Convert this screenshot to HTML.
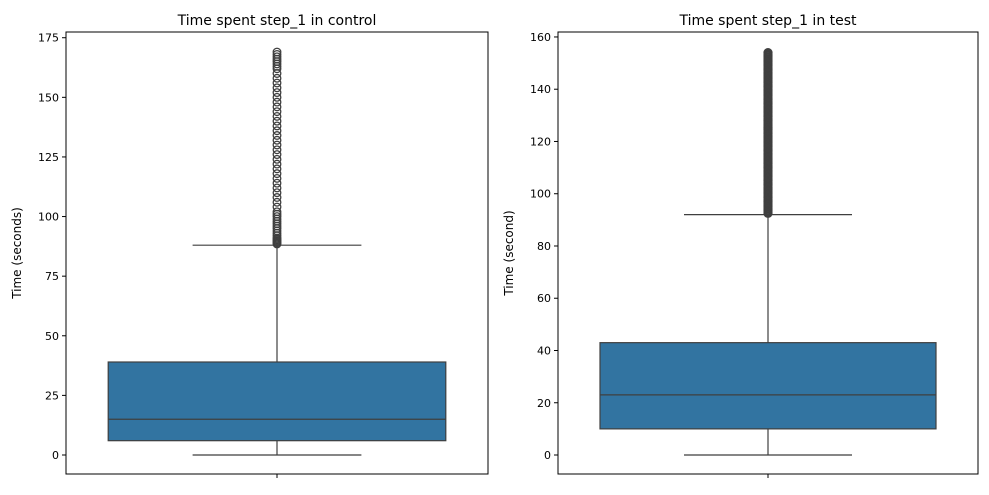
<!DOCTYPE html>
<html><head><meta charset="utf-8"><style>
body{margin:0;background:#fff;font-family:"Liberation Sans","DejaVu Sans",sans-serif}
svg text{font-family:"DejaVu Sans","Liberation Sans",sans-serif}
</style></head><body>
<svg id="chart" width="989" height="490" xmlns="http://www.w3.org/2000/svg"></svg>
<script>
// left panel (control)
const ctrlStats = [0, 6, 15, 39, 88]; // min, q1, median, q3, upper whisker
const ctrlOutliers = [88.5,89,89.5,90,90.5,91,92,93,94,95,96,97,98,99,100,101,102,104,106,108,110,112,114,116,118,120,122,124,126,128,130,132,134,136,138,140,142,144,146,148,150,152,154,156,158,160,162,163,164,165,166,167,168,169];
const ctrlTicks = [0,25,50,75,100,125,150,175];
// right panel (test)
const testStats = [0, 10, 23, 43, 92];
const testOutliers = [92.5,93,93.5,94,94.5,95,95.5,96,96.5,97,97.5,98,98.5,99,99.5,100,100.5,101,101.5,102,102.5,103,103.5,104,104.5,105,105.5,106,106.5,107,107.5,108,108.5,109,109.5,110,110.5,111,111.5,112,112.5,113,113.5,114,114.5,115,115.5,116,116.5,117,117.5,118,118.5,119,119.5,120,120.5,121,121.5,122,122.5,123,123.5,124,124.5,125,125.5,126,126.5,127,127.5,128,128.5,129,129.5,130,130.5,131,131.5,132,132.5,133,133.5,134,134.5,135,135.5,136,136.5,137,137.5,138,138.5,139,139.5,140,140.5,141,141.5,142,142.5,143,143.5,144,144.5,145,145.5,146,146.5,147,147.5,148,148.5,149,149.5,150,150.5,151,151.5,152,152.5,153,153.5,154];
const testTicks = [0,20,40,60,80,100,120,140,160];

const svg = document.getElementById('chart');
const NS = 'http://www.w3.org/2000/svg';
function mk(tag, attrs, parent){const e=document.createElementNS(NS,tag);for(const k in attrs)e.setAttribute(k,attrs[k]);(parent||svg).appendChild(e);return e;}

function panel(cfg){
  const g = mk('g',{});
  
  
  const {x0,x1,y0,y1,vmin,vmax,stats,outs,ticks,title,ylabel} = cfg;
  const y = v => y1 - (v - vmin)/(vmax - vmin)*(y1 - y0);
  const cx = (x0+x1)/2, w = x1-x0;
  const bx0 = x0 + w*0.1, bx1 = x1 - w*0.1;
  const cx0 = x0 + w*0.3, cx1 = x1 - w*0.3;
  ticks.forEach(t=>{
    const ln = mk('line',{x1:x0-4,x2:x0,y1:y(t),y2:y(t),stroke:'#000','stroke-width':1},g);
    
    
    const tx = mk('text',{x:x0-7,y:y(t)+4,'text-anchor':'end','font-size':11,fill:'#000'},g);
    tx.textContent = t;
    
    
  });
  mk('line',{x1:cx,x2:cx,y1:y1,y2:y1+4,stroke:'#000'},g);
  const wl = mk('line',{x1:cx,x2:cx,y1:y(stats[0]),y2:y(stats[1]),stroke:'#3f3f3f','stroke-width':1.2},g);
  
  
  const wu = mk('line',{x1:cx,x2:cx,y1:y(stats[3]),y2:y(stats[4]),stroke:'#3f3f3f','stroke-width':1.2},g);
  
  
  [stats[0],stats[4]].forEach(v=>{
    const c = mk('line',{x1:cx0,x2:cx1,y1:y(v),y2:y(v),stroke:'#3f3f3f','stroke-width':1.2},g);
    
    
  });
  const box = mk('rect',{x:bx0,y:y(stats[3]),width:bx1-bx0,height:y(stats[1])-y(stats[3]),fill:'#3274a1',stroke:'#3f3f3f','stroke-width':1.2},g);
  
  
  const md = mk('line',{x1:bx0,x2:bx1,y1:y(stats[2]),y2:y(stats[2]),stroke:'#3f3f3f','stroke-width':1.2},g);
  
  
  outs.forEach(v=>{
    const c = mk('circle',{cx:cx,cy:y(v),r:3.8,fill:'none',stroke:'#3f3f3f','stroke-width':cfg.ow},g);
    
    
  });
  const fr = mk('rect',{x:x0,y:y0,width:w,height:y1-y0,fill:'none',stroke:'#000','stroke-width':1},g);
  
  
  const tt = mk('text',{x:cx,y:y0-7,'text-anchor':'middle','font-size':14,fill:'#000'},g);
  tt.textContent = title;
  
  
  const yl = mk('text',{x:0,y:0,'text-anchor':'middle','font-size':12,fill:'#000',transform:`translate(${cfg.ylx},${(y0+y1)/2}) rotate(-90)`},g);
  yl.textContent = ylabel;
  
  
}
panel({name:'control-panel',x0:66,x1:488,y0:32,y1:474,vmin:-7.97,vmax:177.4,stats:ctrlStats,outs:ctrlOutliers,ticks:ctrlTicks,title:'Time spent step_1 in control',ylabel:'Time (seconds)',ylx:21,ow:1.3});
panel({name:'test-panel',x0:558,x1:978,y0:32,y1:474,vmin:-7.27,vmax:161.9,stats:testStats,outs:testOutliers,ticks:testTicks,title:'Time spent step_1 in test',ylabel:'Time (second)',ylx:513,ow:1.6});
</script>
</body></html>
